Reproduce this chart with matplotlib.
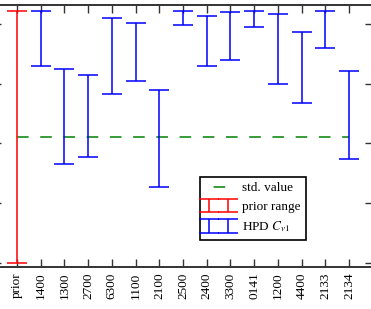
import numpy as np
import matplotlib.pyplot as plt
from matplotlib.lines import Line2D

plt.rcParams['font.family'] = ['Liberation Serif', 'DejaVu Serif']
plt.rcParams['mathtext.fontset'] = 'stix'

labels = ['prior', '1400', '1300', '2700', '6300', '1100', '2100', '2500',
          '2400', '3300', '0141', '1200', '4400', '2133', '2134']

prior_low = 0.0
prior_high = 4.22
std_value = 2.11

# HPD intervals (lower, upper) per sample
hpd_low = [3.30, 1.65, 1.77, 2.83, 3.05, 1.27, 3.99,
           3.29, 3.40, 3.95, 3.00, 2.67, 3.60, 1.74]
hpd_high = [4.22, 3.24, 3.15, 4.10, 4.01, 2.90, 4.22,
            4.13, 4.20, 4.22, 4.16, 3.86, 4.22, 3.22]

fig = plt.figure(figsize=(3.71, 3.09), dpi=100)
ax = fig.add_axes([-0.01806, 0.13592, 1.02264, 0.84790])

x = np.arange(len(labels))

ax.plot([x[0], x[-1]], [std_value, std_value], color='g', lw=1.1,
        linestyle=(0, (7.6, 7.6)), zorder=1)

pr = ax.errorbar([x[0]], [(prior_low + prior_high) / 2],
                 yerr=[[(prior_high - prior_low) / 2], [(prior_high - prior_low) / 2]],
                 fmt='none', ecolor='r', elinewidth=1.1, capsize=7, capthick=1.1,
                 zorder=2)

lo = np.array(hpd_low)
hi = np.array(hpd_high)
mid = (lo + hi) / 2
hpd = ax.errorbar(x[1:], mid, yerr=[mid - lo, hi - mid],
                  fmt='none', ecolor='b', elinewidth=1.1, capsize=7, capthick=1.1,
                  zorder=2)

ax.set_xlim(-1, 15)
ax.set_ylim(-0.067, 4.318)
ax.set_xticks(x)
ax.set_xticklabels(labels, rotation=90, fontsize=9.5)
ax.set_yticks([0, 1, 2, 3, 4])
ax.tick_params(direction='in', length=5.8, width=1.0, color='#333333',
               top=True, right=True, labelleft=False, pad=4)
for s in ax.spines.values():
    s.set_linewidth(1.4)
    s.set_color('#333333')

# legend proxy so only one short dash shows, like the original
std_handle = Line2D([], [], color='g', lw=1.1, linestyle=(12.2, (7.6, 7.6)))
leg = ax.legend([std_handle, pr, hpd], ['std. value', 'prior range', 'HPD $C_{v1}$'],
                loc='upper left', bbox_to_anchor=(200 / 371, 1 - 176.7 / 309),
                bbox_transform=fig.transFigure, fontsize=9.5, fancybox=False,
                framealpha=1, edgecolor='black', borderaxespad=0, numpoints=2)
leg.get_frame().set_linewidth(1.2)

fig.savefig('out.png', dpi=100)
